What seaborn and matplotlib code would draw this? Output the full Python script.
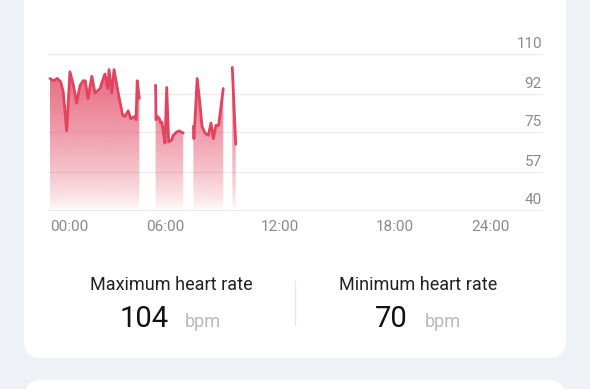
import numpy as np
import pandas as pd
import seaborn as sns
import matplotlib.pyplot as plt
import matplotlib.transforms as mtransforms
from matplotlib.colors import to_rgb
from matplotlib.patches import FancyBboxPatch

# heart rate readings, hours since midnight, split where the watch lost contact
seg1_hours = [0.0, 0.17, 0.38, 0.56, 0.69, 0.87, 1.04, 1.22, 1.39, 1.57, 1.74, 1.84, 1.98,
              2.18, 2.35, 2.61, 2.78, 2.87, 3.01, 3.08, 3.22, 3.34, 3.56, 3.79, 3.91, 4.08,
              4.21, 4.43, 4.49, 4.55, 4.66]
seg1_bpm = [99, 98, 99, 97.5, 93, 75.5, 102, 96, 88, 96, 98, 98, 90,
            100, 92.5, 94.5, 99, 101, 94.5, 103, 92.5, 103, 92.5, 82.5, 82, 84.5,
            81, 82, 80.5, 98, 90]
seg2_hours = [5.51, 5.53, 5.60, 5.70, 5.78, 5.84, 5.91, 6.00, 6.09, 6.19, 6.35, 6.43, 6.61, 6.75, 6.95]
seg2_bpm = [96, 80.5, 82, 81, 79, 79.5, 75, 70, 95, 70.5, 71.5, 73.5, 75, 75.5, 74.5]
seg3_hours = [7.48, 7.51, 7.68, 7.83, 7.93, 8.09, 8.26, 8.40, 8.52, 8.66, 8.80, 9.04]
seg3_bpm = [77.5, 72, 99, 87, 77.5, 74.5, 73.5, 79, 72, 78, 78, 94.5]
seg4_hours = [9.51, 9.69]
seg4_bpm = [104, 69.5]

y_ticks = [40, 57, 75, 92, 110]
y_labels = ["40", "57", "75", "92", "110"]
x_ticks = [0, 6, 12, 18, 24]
x_labels = ["00:00", "06:00", "12:00", "18:00", "24:00"]

max_rate = "104"
min_rate = "70"

segments = [(seg1_hours, seg1_bpm), (seg2_hours, seg2_bpm),
            (seg3_hours, seg3_bpm), (seg4_hours, seg4_bpm)]
df = pd.concat([pd.DataFrame({"hour": h, "bpm": b, "segment": i})
                for i, (h, b) in enumerate(segments)], ignore_index=True)

line_color = "#e2435f"
bg_color = "#eef1f6"
W, H = 590, 389

sns.set_theme(style="white")
plt.rcParams["font.family"] = ["Roboto", "DejaVu Sans"]

fig = plt.figure(figsize=(W / 100, H / 100), dpi=100, facecolor=bg_color)

# background in pixel coordinates: the two white cards
bg = fig.add_axes([0, 0, 1, 1])
bg.set_xlim(0, W)
bg.set_ylim(H, 0)
bg.axis("off")
bg.add_patch(FancyBboxPatch((24, -40), 542, 398, boxstyle="round,pad=0,rounding_size=18",
                            fc="white", ec="none"))
bg.add_patch(FancyBboxPatch((24, 380), 542, 60, boxstyle="round,pad=0,rounding_size=18",
                            fc="white", ec="none"))

# chart area
ax = fig.add_axes([48 / W, 1 - 210 / H, (542 - 48) / W, (210 - 54) / H])
ax.patch.set_alpha(0)
px_per_hour = 115 / 6
x_min, x_max = -2 / px_per_hour, 24 + 32 / px_per_hour
y_min, y_max = 40, 110

for v in y_ticks:
    ax.axhline(v, color="#ececec", lw=0.9, zorder=0, clip_on=False)

# gradient fill under each segment
rgb = np.array(to_rgb(line_color))
t = np.linspace(0, 1, 256)[:, None]
grad = np.zeros((256, 1, 4))
grad[..., :3] = rgb
grad[..., 3] = 0.85 * t ** 0.7
for h, b in segments:
    poly = ax.fill_between(h, b, y_min, color="none", lw=0)
    im = ax.imshow(grad, extent=[x_min, x_max, y_min, y_max], aspect="auto",
                   origin="lower", zorder=1)
    im.set_clip_path(poly.get_paths()[0], transform=ax.transData)

sns.lineplot(data=df, x="hour", y="bpm", units="segment", estimator=None, sort=False,
             color=line_color, lw=2, solid_joinstyle="round", solid_capstyle="round",
             legend=False, ax=ax, zorder=3)

ax.set_xlim(x_min, x_max)
ax.set_ylim(y_min, y_max)
ax.set_xticks([])
ax.set_yticks([])
ax.set_xlabel("")
ax.set_ylabel("")
sns.despine(ax=ax, left=True, bottom=True)

tick_color = "#8a8a8a"
ytrans = mtransforms.blended_transform_factory(ax.transAxes, ax.transData)
for v, lab in zip(y_ticks, y_labels):
    ax.annotate(lab, xy=(1, v), xycoords=ytrans, xytext=(0, 6), textcoords="offset pixels",
                ha="right", va="baseline", fontsize=11, color=tick_color)
aligns = ["left", "center", "center", "center", "right"]
for v, lab, al in zip(x_ticks, x_labels, aligns):
    ax.annotate(lab, xy=(v, y_min), xycoords="data", xytext=(0, -21),
                textcoords="offset pixels", ha=al, va="baseline", fontsize=11,
                color=tick_color, annotation_clip=False)

# summary row
bg.text(171, 290, "Maximum heart rate", ha="center", va="baseline", fontsize=13, color="#222222")
bg.text(418, 290, "Minimum heart rate", ha="center", va="baseline", fontsize=13, color="#222222")
bg.text(120, 327, max_rate, ha="left", va="baseline", fontsize=21, color="#111111")
bg.text(185, 327, "bpm", ha="left", va="baseline", fontsize=13, color="#b8b8b8")
bg.text(375, 327, min_rate, ha="left", va="baseline", fontsize=21, color="#111111")
bg.text(425, 327, "bpm", ha="left", va="baseline", fontsize=13, color="#b8b8b8")
bg.plot([295, 295], [281, 325], color="#e9e9e9", lw=1)

fig.savefig("out.png", dpi=100, facecolor=bg_color)
